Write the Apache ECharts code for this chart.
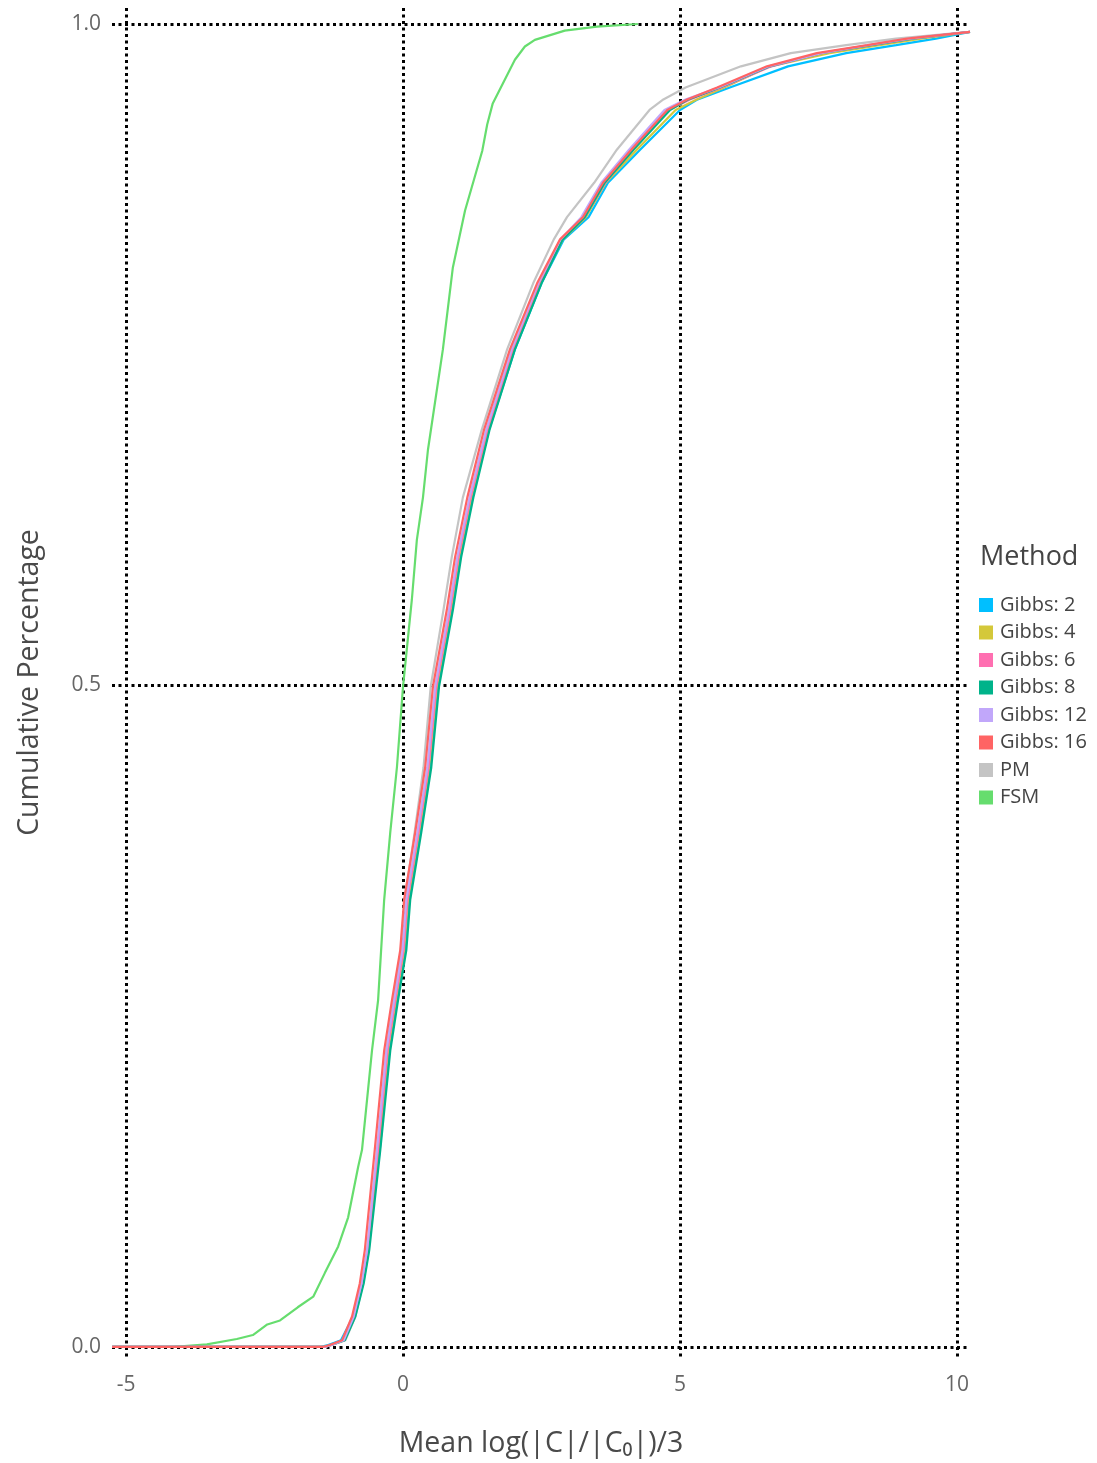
<!DOCTYPE html>
<html>
<head>
<meta charset="utf-8">
<script src="https://cdn.jsdelivr.net/npm/echarts@6/dist/echarts.min.js"></script>
<style>
html,body{margin:0;padding:0;background:#fff;}
#chart{width:1097px;height:1463px;}
</style>
</head>
<body>
<div id="chart"></div>
<script>
// ---- data ----
const seriesNames = ['Gibbs: 2','Gibbs: 4','Gibbs: 6','Gibbs: 8','Gibbs: 12','Gibbs: 16','PM','FSM'];
const xTicks = [-5, 0, 5, 10];
const yTicks = [0, 0.5, 1];

// cumulative levels shared by the Gibbs / PM curves
const yLevels = [0,0,0.0015,0.005,0.023,0.048,0.073,0.111,0.149,0.224,0.262,0.300,0.338,0.389,0.438,0.499,0.557,0.597,0.642,0.693,0.754,0.804,0.837,0.854,0.880,0.905,0.935,0.943,0.952,0.968,0.978,0.984,0.989,0.994];

const xGibbs2  = [-5.25,-1.50,-1.35,-1.12,-0.90,-0.74,-0.63,-0.53,-0.42,-0.25,-0.11,0.04,0.11,0.31,0.49,0.63,0.88,1.03,1.25,1.55,2.02,2.50,2.90,3.35,3.70,4.28,5.00,5.32,5.90,6.95,8.00,8.90,9.62,10.235];
const xGibbs4  = [-5.25,-1.43,-1.30,-1.06,-0.88,-0.73,-0.63,-0.54,-0.44,-0.27,-0.13,0.02,0.09,0.29,0.47,0.61,0.86,1.01,1.23,1.53,2.00,2.48,2.88,3.30,3.66,4.22,4.92,5.30,5.80,6.62,7.70,8.60,9.35,10.235];
const xGibbs6  = [-5.25,-1.42,-1.29,-1.06,-0.88,-0.74,-0.64,-0.55,-0.45,-0.28,-0.14,0.01,0.08,0.28,0.46,0.60,0.85,1.00,1.22,1.52,1.98,2.46,2.86,3.28,3.65,4.15,4.80,5.18,5.75,6.65,7.55,8.45,9.20,10.235];
const xGibbs8  = [-5.25,-1.44,-1.30,-1.05,-0.86,-0.71,-0.61,-0.51,-0.41,-0.23,-0.09,0.06,0.13,0.33,0.51,0.65,0.90,1.05,1.27,1.56,2.02,2.50,2.88,3.28,3.64,4.16,4.82,5.15,5.72,6.62,7.55,8.45,9.20,10.235];
const xGibbs12 = [-5.25,-1.42,-1.29,-1.07,-0.89,-0.75,-0.65,-0.56,-0.47,-0.30,-0.16,-0.01,0.06,0.26,0.44,0.58,0.83,0.98,1.20,1.50,1.96,2.44,2.84,3.22,3.58,4.08,4.72,5.10,5.70,6.60,7.55,8.40,9.15,10.235];
const xGibbs16 = [-5.25,-1.45,-1.32,-1.10,-0.92,-0.78,-0.69,-0.60,-0.51,-0.34,-0.20,-0.05,0.02,0.22,0.40,0.54,0.79,0.94,1.16,1.46,1.93,2.42,2.83,3.25,3.61,4.12,4.77,5.13,5.67,6.57,7.47,8.38,9.10,10.235];
const xPM      = [-5.25,-1.42,-1.28,-1.04,-0.86,-0.72,-0.62,-0.53,-0.44,-0.30,-0.17,-0.04,0.03,0.21,0.37,0.50,0.73,0.88,1.08,1.42,1.88,2.35,2.72,2.96,3.45,3.86,4.45,4.70,5.10,6.10,7.00,8.00,8.90,10.235];

const xFSM = [-4.12,-3.54,-3.0,-2.71,-2.45,-2.22,-1.9,-1.62,-1.41,-1.17,-0.99,-0.81,-0.74,-0.56,-0.45,-0.34,-0.23,-0.11,0,0.16,0.25,0.36,0.45,0.72,0.90,1.12,1.43,1.52,1.62,2.02,2.2,2.38,2.92,3.5,4.24];
const yFSM = [0,0.002,0.006,0.009,0.017,0.02,0.03,0.038,0.056,0.076,0.098,0.136,0.149,0.224,0.262,0.338,0.389,0.438,0.499,0.565,0.610,0.642,0.678,0.754,0.816,0.859,0.904,0.924,0.940,0.973,0.983,0.988,0.995,0.998,1.0];

const colors = {
  'Gibbs: 2':'#00bfff','Gibbs: 4':'#d4c83a','Gibbs: 6':'#ff6fb1','Gibbs: 8':'#00b38a',
  'Gibbs: 12':'#c1a7fa','Gibbs: 16':'#ff6464','PM':'#c4c4c4','FSM':'#66dd6e'
};

// ---- build ----
const zip = (xs, ys) => xs.map((x, i) => [x, ys[i]]);
const curves = {
  'Gibbs: 2': zip(xGibbs2, yLevels),
  'Gibbs: 4': zip(xGibbs4, yLevels),
  'Gibbs: 6': zip(xGibbs6, yLevels),
  'Gibbs: 8': zip(xGibbs8, yLevels),
  'Gibbs: 12': zip(xGibbs12, yLevels),
  'Gibbs: 16': zip(xGibbs16, yLevels),
  'PM': zip(xPM, yLevels),
  'FSM': zip(xFSM, yFSM)
};
const drawOrder = ['PM','FSM','Gibbs: 2','Gibbs: 4','Gibbs: 6','Gibbs: 8','Gibbs: 12','Gibbs: 16'];

const FONT = '"Open Sans", "DejaVu Sans", sans-serif';
const gridLine = {show:true, lineStyle:{color:'#000', width:3, type:[3,3.5]}};

const chart = echarts.init(document.getElementById('chart'));
chart.setOption({
  backgroundColor:'#fff',
  animation:false,
  title:{
    text:'Method', left:980, top:544, padding:0,
    textStyle:{fontFamily:FONT, fontSize:27, fontWeight:'normal', color:'#444'}
  },
  legend:{
    data:seriesNames, orient:'vertical', left:979, top:595, padding:0,
    icon:'rect', itemWidth:14, itemHeight:14, itemGap:7.5,
    textStyle:{fontFamily:FONT, fontSize:20, color:'#444', padding:[0,0,0,2]}
  },
  grid:{left:112, right:127, top:8, bottom:106, containLabel:false, outerBoundsMode:'none'},
  xAxis:{
    type:'value', min:-5.253, max:10.235,
    name:'Mean log(|C|/|C₀|)/3', nameLocation:'middle', nameGap:72,
    nameTextStyle:{fontFamily:FONT, fontSize:28.5, color:'#4a4a4a'},
    axisLine:{show:false}, axisTick:{show:false, customValues:xTicks},
    axisLabel:{customValues:xTicks, fontFamily:FONT, fontSize:21, color:'#666', margin:18,
      formatter:v=>String(v)},
    splitLine:gridLine
  },
  yAxis:{
    type:'value', min:-0.0076, max:1.0121,
    name:'Cumulative Percentage', nameLocation:'middle', nameGap:68, nameRotate:90,
    nameTextStyle:{fontFamily:FONT, fontSize:28.5, color:'#4a4a4a'},
    axisLine:{show:false}, axisTick:{show:false, customValues:yTicks},
    axisLabel:{customValues:yTicks, fontFamily:FONT, fontSize:21, color:'#666', margin:11,
      formatter:v=>v.toFixed(1)},
    splitLine:gridLine
  },
  series: drawOrder.map(n => ({
    name:n, type:'line', data:curves[n], showSymbol:false, symbol:'none',
    lineStyle:{color:colors[n], width:2.2},
    itemStyle:{color:colors[n]},
    emphasis:{disabled:true}
  }))
});
</script>
</body>
</html>
